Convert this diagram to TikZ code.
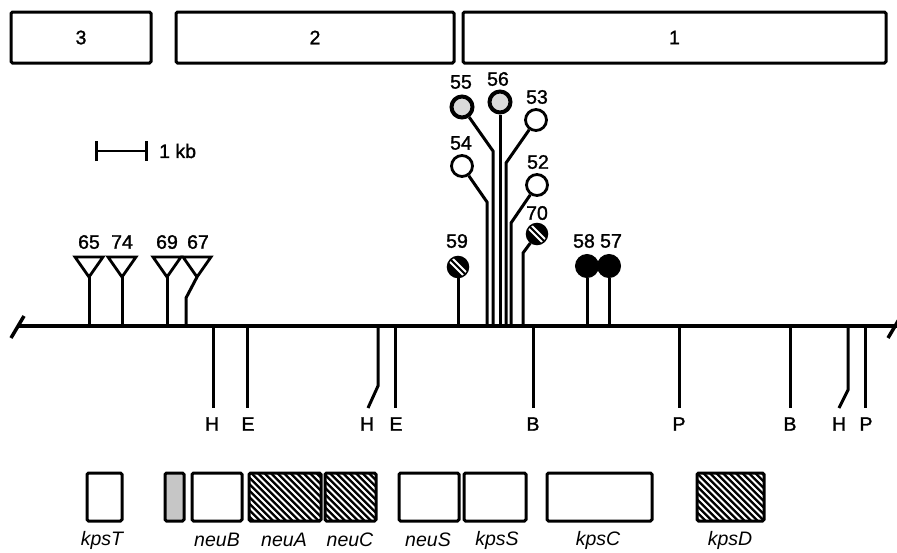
\documentclass[tikz,border=0pt]{standalone}
\usepackage{fontspec}
\setmainfont{Liberation Sans}[AutoFakeBold=1.4]
\usetikzlibrary{arrows.meta}
\begin{document}
\begin{tikzpicture}[x=1pt,y=-1pt,
  lab/.style={font=\fontsize{19.5}{21}\selectfont\bfseries, inner sep=0pt},
  gene/.style={font=\fontsize{19.5}{21}\selectfont\bfseries\itshape, inner sep=0pt},
  frame/.style={draw, line width=3pt, rounded corners=1.5pt, inner sep=0pt},
  regbox/.style={frame, minimum height=51pt, font=\fontsize{19.5}{21}\selectfont\bfseries},
  genebox/.style={frame, minimum height=48pt, fill=white},
  stipbox/.style={genebox, fill=gray!45},
  hatchbox/.style={genebox, fill=black, path picture={
      \foreach \k in {-20,...,20}{
        \draw[white, line width=2.1pt]
          ([xshift={\k*6.5pt-80pt}, yshift=80pt]path picture bounding box.center) --
          ([xshift={\k*6.5pt+80pt}, yshift=-80pt]path picture bounding box.center);}}},
  stem/.style={line width=3pt},
  mainline/.style={line width=3.5pt},
  ocirc/.style={circle, draw, fill=white, line width=2.8pt, minimum size=21pt, inner sep=0pt},
  scirc/.style={circle, draw, fill=gray!30, line width=4pt, minimum size=21pt, inner sep=0pt},
  fcirc/.style={circle, draw, fill=black, line width=1pt, minimum size=23pt, inner sep=0pt},
  hcirc/.style={circle, draw, fill=black, line width=1.5pt, minimum size=21pt, inner sep=0pt,
    path picture={
      \draw[white, line width=2pt]
        ([xshift=-10pt, yshift=7pt]path picture bounding box.center) --
        ([xshift=7pt, yshift=-10pt]path picture bounding box.center);
      \draw[white, line width=2pt]
        ([xshift=-7pt, yshift=10pt]path picture bounding box.center) --
        ([xshift=10pt, yshift=-7pt]path picture bounding box.center);}},
  tri/.style={draw, fill=white, line width=2.8pt, line join=miter}
]
\useasboundingbox (0,0) rectangle (897,552);

% ---- regions 3, 2, 1 ----
\node[regbox, minimum width=140pt] (r3) at (81,37.5) {3};
\node[regbox, minimum width=278pt] (r2) at (315,37.5) {2};
\node[regbox, minimum width=423pt] (r1) at (674.5,37.5) {1};

% ---- scale bar ----
\coordinate (s1) at (95,151);
\coordinate (s2) at (148,151);
\draw[line width=2.8pt, {Bar[width=20pt,line width=2.8pt]}-{Bar[width=20pt,line width=2.8pt]}] (s1) -- (s2);
\node[lab, anchor=west] (kb) at (159,151) {1 kb};

% ---- chromosome line ----
\coordinate (L) at (17,326);
\coordinate (R) at (897,326);
\draw[mainline] (L) -- (R);
\coordinate (ls1) at (11,338); \coordinate (ls2) at (24,316);
\draw[mainline] (ls1) -- (ls2);
\coordinate (rs1) at (888,338); \coordinate (rs2) at (901,316);
\draw[mainline] (rs1) -- (rs2);

% ---- transposon insertions (triangles) ----
\foreach \n/\x in {65/89, 74/122, 69/167}{
  \coordinate (t\n) at (\x,277);
  \coordinate (b\n) at (\x,326);
  \draw[stem] (b\n) -- (t\n);
  \draw[tri] (t\n) -- ++(-14,-20) -- ++(28,0) -- cycle;
  \node[lab] (l\n) at (\x,242) {\n};
}
\coordinate (t67) at (197,277);
\coordinate (k67) at (186,298);
\coordinate (b67) at (186,326);
\draw[stem] (b67) -- (k67) -- (t67);
\draw[tri] (t67) -- ++(-14,-20) -- ++(28,0) -- cycle;
\node[lab] (l67) at (198,242) {67};

% ---- lollipop insertions ----
\node[scirc] (c55) at (462,107) {};
\node[scirc] (c56) at (500,102) {};
\node[ocirc] (c53) at (536,120) {};
\node[ocirc] (c54) at (462,166) {};
\node[ocirc] (c52) at (537,185) {};
\node[hcirc] (c70) at (537,234) {};
\node[hcirc] (c59) at (458,267) {};
\node[fcirc] (c58) at (587,266) {};
\node[fcirc] (c57) at (609,266) {};

\coordinate (b54) at (487,326); \coordinate (k54) at (487,202);
\coordinate (b55) at (493,326); \coordinate (k55) at (493,151);
\coordinate (b56) at (500,326);
\coordinate (b53) at (506,326); \coordinate (k53) at (506,163);
\coordinate (b52) at (511,326); \coordinate (k52) at (511,223);
\coordinate (b70) at (523,326); \coordinate (k70) at (523,253);
\coordinate (b59) at (458,326);
\coordinate (b58) at (587,326);
\coordinate (b57) at (609,326);

\draw[stem] (b54) -- (k54) -- (c54);
\draw[stem] (b55) -- (k55) -- (c55);
\draw[stem] (b56) -- (c56);
\draw[stem] (b53) -- (k53) -- (c53);
\draw[stem] (b52) -- (k52) -- (c52);
\draw[stem] (b70) -- (k70) -- (c70);
\draw[stem] (b59) -- (c59);
\draw[stem] (b58) -- (c58);
\draw[stem] (b57) -- (c57);

\node[lab] (l55) at (461,82) {55};
\node[lab] (l56) at (498,79) {56};
\node[lab] (l53) at (537,97) {53};
\node[lab] (l54) at (461,143) {54};
\node[lab] (l52) at (538,162) {52};
\node[lab] (l70) at (537,213) {70};
\node[lab] (l59) at (457,241) {59};
\node[lab] (l58) at (584,241) {58};
\node[lab] (l57) at (611,241) {57};

% ---- restriction sites ----
\foreach \i/\x/\t/\lx in {h1/213/H/212, e1/247/E/248, e2/395/E/396, b1/533/B/533,
                          p1/679/P/679, b2/790/B/790, p2/865/P/866}{
  \coordinate (u\i) at (\x,326);
  \coordinate (d\i) at (\x,408);
  \draw[stem] (u\i) -- (d\i);
  \node[lab] (n\i) at (\lx,424) {\t};
}
\coordinate (uh2) at (378,326); \coordinate (kh2) at (378,386); \coordinate (dh2) at (368,408);
\draw[stem] (uh2) -- (kh2) -- (dh2);
\node[lab] (nh2) at (367,424) {H};
\coordinate (uh3) at (848,326); \coordinate (kh3) at (848,390); \coordinate (dh3) at (839,408);
\draw[stem] (uh3) -- (kh3) -- (dh3);
\node[lab] (nh3) at (839,424) {H};

% ---- genes ----
\node[genebox, minimum width=35pt] (kpsT) at (104.5,497) {};
\node[stipbox, minimum width=19pt] (stip) at (174.5,497) {};
\node[genebox, minimum width=50pt] (neuB) at (217,497) {};
\node[hatchbox, minimum width=72pt] (neuA) at (285,497) {};
\node[hatchbox, minimum width=51pt] (neuC) at (350.5,497) {};
\node[genebox, minimum width=60pt] (neuS) at (429,497) {};
\node[genebox, minimum width=62pt] (kpsS) at (495,497) {};
\node[genebox, minimum width=105pt] (kpsC) at (599.5,497) {};
\node[hatchbox, minimum width=67pt] (kpsD) at (730.5,497) {};

\node[gene] (gT) at (102,540) {kpsT};
\node[gene] (gB) at (217,540) {neuB};
\node[gene] (gA) at (284,540) {neuA};
\node[gene] (gC) at (350,540) {neuC};
\node[gene] (gS) at (428,540) {neuS};
\node[gene] (gkS) at (497,540) {kpsS};
\node[gene] (gkC) at (598,540) {kpsC};
\node[gene] (gkD) at (730,540) {kpsD};
\end{tikzpicture}
\end{document}
